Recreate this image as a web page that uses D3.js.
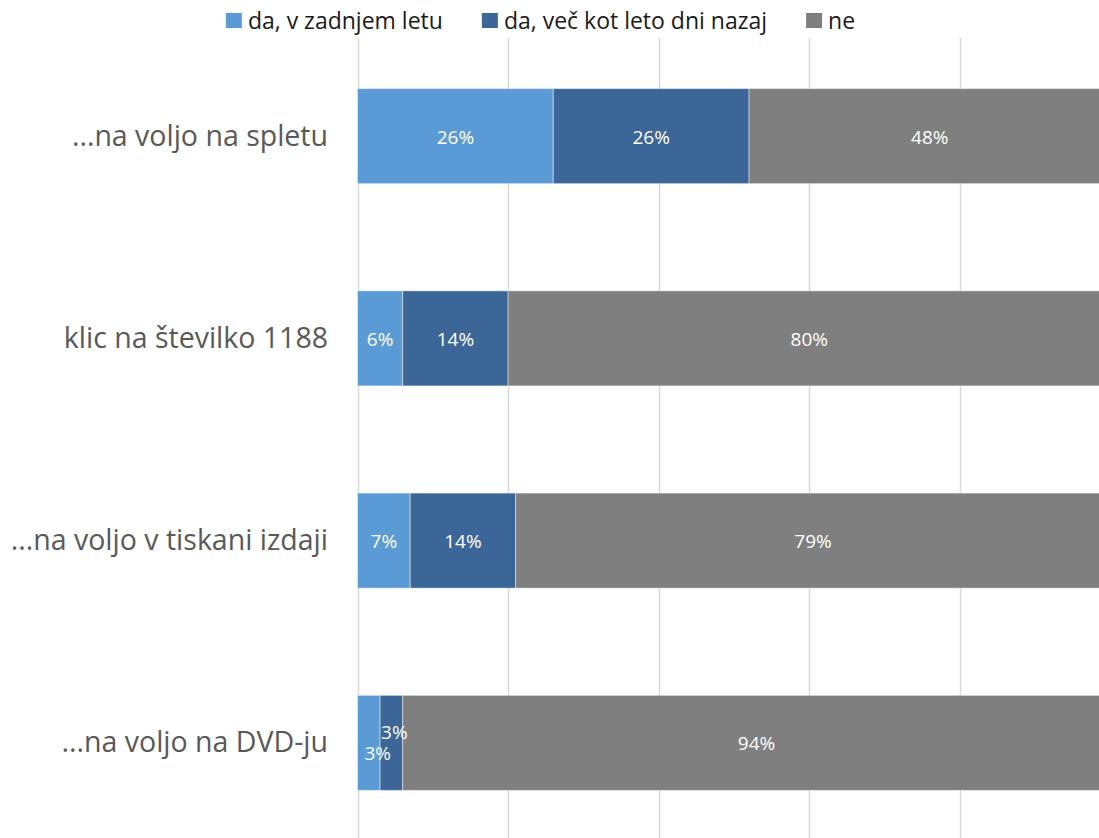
<!DOCTYPE html>
<html>
<head>
<meta charset="utf-8">
<script src="https://cdn.jsdelivr.net/npm/d3@7"></script>
<style>
  html, body { margin: 0; padding: 0; background: #fff; overflow: hidden; }
  svg { display: block; font-family: "Open Sans", sans-serif; }
</style>
</head>
<body>
<svg id="chart" width="1099" height="838"></svg>
<script>
// Categories (top to bottom) and the three answer series, in percent
const categories = [
  "...na voljo na spletu",
  "klic na številko 1188",
  "...na voljo v tiskani izdaji",
  "...na voljo na DVD-ju"
];
const seriesNames = ["da, v zadnjem letu", "da, več kot leto dni nazaj", "ne"];
const lastYear = [26, 6, 7, 3];
const earlier  = [26, 14, 14, 3];
const never    = [48, 80, 79, 94];
const gridTicks = [0, 20, 40, 60, 80, 100];

const colors = ["#5B9BD5", "#3D6698", "#7F7F7F"];

const svg = d3.select("#chart");
const W = 1099, H = 838;

const x = d3.scaleLinear().domain([0, 100]).range([357.5, 1110.5]);
const y = d3.scaleBand().domain(categories).range([35, 844])
  .paddingInner(0.53).paddingOuter(0.265);

// Vertical gridlines
svg.append("g").selectAll("line").data(gridTicks).join("line")
  .attr("x1", d => Math.round(x(d)) + 0.5).attr("x2", d => Math.round(x(d)) + 0.5)
  .attr("y1", 38).attr("y2", H)
  .attr("stroke", "#D9D9D9").attr("stroke-width", 1.5);

// Stack the series
const rows = categories.map((c, i) => ({ cat: c, s0: lastYear[i], s1: earlier[i], s2: never[i] }));
const stack = d3.stack().keys(["s0", "s1", "s2"]);
const layers = stack(rows);

const g = svg.append("g");
layers.forEach((layer, li) => {
  g.append("g").selectAll("rect").data(layer).join("rect")
    .attr("x", d => x(d[0]))
    .attr("width", d => x(d[1]) - x(d[0]))
    .attr("y", d => y(d.data.cat))
    .attr("height", y.bandwidth())
    .attr("fill", colors[li])
    .attr("stroke", "rgba(255,255,255,0.45)")
    .attr("stroke-width", 1);
});

// Small segments on the DVD row get their labels nudged apart
const labelNudge = {
  "...na voljo na DVD-ju": [[9, 10], [3, -11], [0, 0]]
};

layers.forEach((layer, li) => {
  g.append("g").selectAll("text").data(layer).join("text")
    .attr("x", d => {
      const n = labelNudge[d.data.cat];
      return (x(d[0]) + x(d[1])) / 2 + (n ? n[li][0] : 0);
    })
    .attr("y", d => {
      const n = labelNudge[d.data.cat];
      return y(d.data.cat) + y.bandwidth() / 2 + (n ? n[li][1] : 0);
    })
    .attr("dy", "0.4em")
    .attr("text-anchor", "middle")
    .attr("fill", "#fff")
    .attr("font-size", 19)
    .text(d => (d[1] - d[0]) + "%");
});

// Category labels
svg.append("g").selectAll("text").data(categories).join("text")
  .attr("x", 328)
  .attr("y", d => y(d) + y.bandwidth() / 2)
  .attr("dy", "0.33em")
  .attr("text-anchor", "end")
  .attr("fill", "#595959")
  .attr("font-size", 28.5)
  .text(d => d);

// Legend, centred across the top
const legend = svg.append("g");
const items = legend.selectAll("g").data(seriesNames).join("g");
items.append("rect").attr("width", 16).attr("height", 15).attr("y", 13)
  .attr("fill", (d, i) => colors[i]);
items.append("text").attr("x", 22).attr("y", 29)
  .attr("font-size", 23).attr("fill", "#1a1a1a").text(d => d);
let cx = 0;
items.each(function () {
  d3.select(this).attr("transform", `translate(${cx},0)`);
  cx += 22 + this.querySelector("text").getComputedTextLength() + 39;
});
const legendW = cx - 39;
legend.attr("transform", `translate(${540.5 - legendW / 2},0)`);
</script>
</body>
</html>
